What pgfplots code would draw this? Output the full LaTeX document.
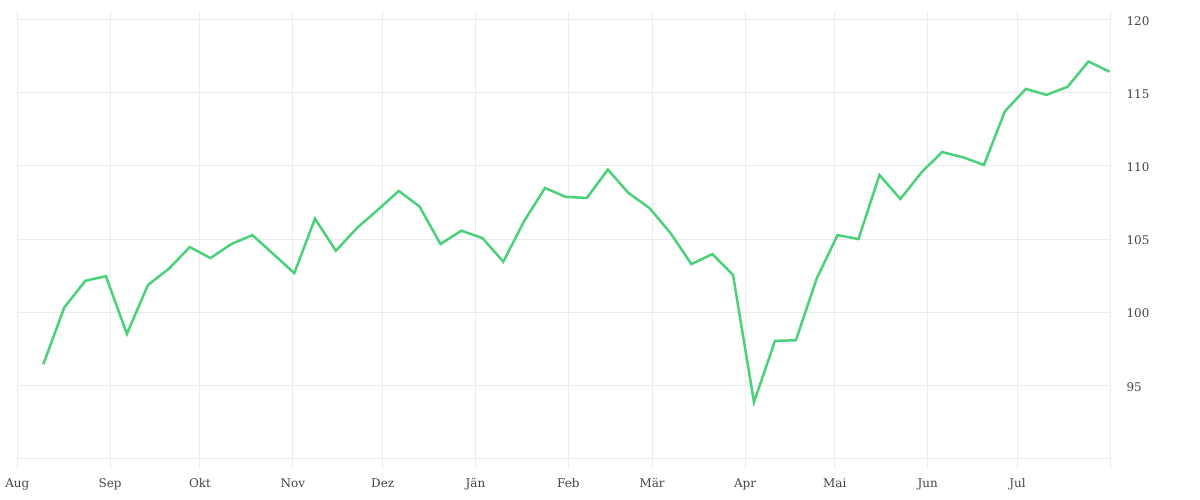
\documentclass[border=0pt]{standalone}
\usepackage{pgfplots}
\pgfplotsset{compat=1.18}
\usepackage{fontspec}
\setmainfont{DejaVu Serif}
\definecolor{linegreen}{HTML}{4CD17B}
\definecolor{gridgray}{HTML}{EBEBEB}
\definecolor{labelgray}{HTML}{444444}
\begin{document}
\begin{tikzpicture}[x=1bp,y=1bp]
\path[use as bounding box] (0,0) rectangle (1200,500);
\begin{axis}[
  at={(17.3bp,31.7bp)}, anchor=south west,
  scale only axis, width=1093bp, height=456.6bp,
  xmin=0, xmax=365, ymin=89.32, ymax=120.55,
  axis line style={draw=none},
  major tick length=0pt,
  grid=major,
  major grid style={draw=gridgray, line width=1bp},
  xtick={0,31,61,92,122,153,184,212,243,273,304,334,365},
  xticklabels={Aug,Sep,Okt,Nov,Dez,Jän,Feb,Mär,Apr,Mai,Jun,Jul,},
  ytick={90,95,100,105,110,115,120},
  yticklabels={,95,100,105,110,115,120},
  yticklabel pos=right,
  xticklabel style={anchor=base, yshift=-19bp, inner sep=0pt, font=\fontsize{12}{14}\selectfont, text=labelgray},
  yticklabel style={anchor=west, xshift=16bp, yshift=-1.5bp, inner sep=0pt, font=\fontsize{12}{14}\selectfont, text=labelgray},
  clip=false,
]
\addplot[linegreen, line width=2.5bp, line join=miter, mark=none] coordinates {
(8.7,96.44) (15.7,100.32) (22.7,102.14) (29.6,102.46) (36.6,98.51)
(43.6,101.85) (50.6,102.97) (57.6,104.45) (64.5,103.70) (71.5,104.66)
(78.5,105.27) (85.5,103.97) (92.5,102.67) (99.4,106.39) (106.4,104.20)
(113.4,105.75) (120.4,107.00) (127.4,108.29) (134.3,107.23) (141.3,104.66)
(148.3,105.57) (155.3,105.07) (162.3,103.45) (169.2,106.21) (176.2,108.49)
(183.2,107.88) (190.2,107.81) (197.2,109.75) (204.1,108.15) (211.1,107.12)
(218.1,105.41) (225.1,103.29) (232.1,103.97) (239.0,102.55) (246.0,93.84)
(253.0,98.03) (260.0,98.08) (267.0,102.33) (273.9,105.27) (280.9,105.00)
(287.9,109.38) (294.9,107.74) (301.9,109.55) (308.8,110.95) (315.8,110.59)
(322.8,110.07) (329.8,113.74) (336.8,115.27) (343.7,114.86) (350.7,115.41)
(357.7,117.14) (364.7,116.45)
};
\end{axis}
\end{tikzpicture}
\end{document}
